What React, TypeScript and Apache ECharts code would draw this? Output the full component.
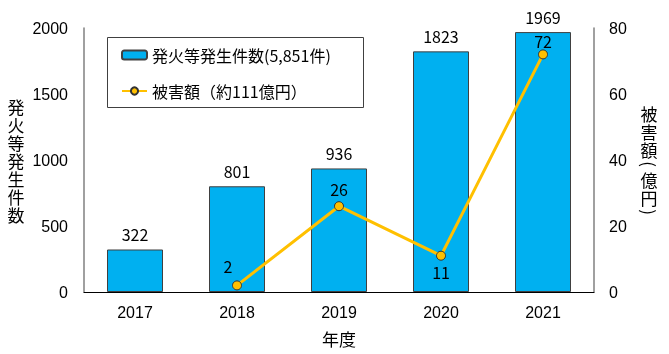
import React, { useEffect, useRef } from "react";
import * as echarts from "echarts";

const years = ["2017", "2018", "2019", "2020", "2021"];
const fireCounts = [322, 801, 936, 1823, 1969];
const damageAmounts: (number | null)[] = [null, 2, 26, 11, 72];
const leftTicks = { min: 0, max: 2000, interval: 500 };
const rightTicks = { min: 0, max: 80, interval: 20 };
const barName = "発火等発生件数(5,851件)";
const lineName = "被害額（約111億円）";
const leftAxisName = ["発", "火", "等", "発", "生", "件", "数"];
const rightAxisName = ["被", "害", "額", "(", "億", "円", ")"];
const xAxisName = "年度";

const CJK = '"Noto Sans CJK JP", sans-serif';
const NUM = '"Liberation Sans", Arial, sans-serif';

function verticalName(chars: string[], cx: number, top: number, step: number) {
  let y = top;
  return chars.map((ch) => {
    const paren = ch === "(" || ch === ")";
    const h = paren ? 12 : step;
    const el = {
      type: "text",
      x: cx,
      y: y + h / 2,
      rotation: paren ? -Math.PI / 2 : 0,
      style: {
        text: ch,
        fontFamily: CJK,
        fontSize: 17,
        lineHeight: paren ? 12 : step,
        fill: "#000",
        align: "center",
        verticalAlign: "middle",
      },
    };
    y += h;
    return el;
  });
}

export default function App() {
  const ref = useRef<HTMLDivElement>(null);
  useEffect(() => {
    if (!ref.current) return;
    const chart = echarts.init(ref.current, undefined, { renderer: "svg" });
    const lineLabelStyles: any[] = [
      {},
      { position: "top", offset: [-9, -1] },
      { position: "top", distance: 4 },
      { position: "bottom", distance: 3 },
      { position: "top", distance: 0 },
    ];
    const lineData = damageAmounts.map((v, i) => ({
      value: v,
      label: lineLabelStyles[i],
    }));
    const plain = (v: number) => String(v);
    chart.setOption({
      animation: false,
      grid: { left: 84, right: 75, top: 28, bottom: 62 },
      legend: {
        left: 121,
        top: 47,
        padding: 0,
        orient: "vertical",
        itemWidth: 25,
        itemHeight: 9,
        itemGap: 20,
        textStyle: { fontFamily: CJK, fontSize: 16, color: "#000" },
        data: [barName, lineName],
      },
      graphic: [
        {
          type: "rect",
          shape: { x: 107.5, y: 37.5, width: 256, height: 70 },
          style: { fill: "none", stroke: "#404040", lineWidth: 1 },
          z: -1,
        },
        ...verticalName(leftAxisName, 16, 97, 18),
        ...verticalName(rightAxisName, 649, 104, 18),
        {
          type: "text",
          x: 339,
          y: 338,
          style: {
            text: xAxisName,
            fontFamily: CJK,
            fontSize: 17,
            fill: "#000",
            align: "center",
            verticalAlign: "middle",
          },
        },
      ],
      xAxis: {
        type: "category",
        data: years,
        axisLine: { show: true, lineStyle: { color: "#000", width: 1 } },
        axisTick: { show: false },
        axisLabel: { fontFamily: NUM, fontSize: 16, color: "#000", margin: 12 },
      },
      yAxis: [
        {
          type: "value",
          ...leftTicks,
          axisLine: { show: true, lineStyle: { color: "#808080", width: 1.5 } },
          axisTick: { show: false },
          splitLine: { show: false },
          axisLabel: { fontFamily: NUM, fontSize: 16, color: "#000", margin: 16, formatter: plain },
        },
        {
          type: "value",
          ...rightTicks,
          position: "right",
          axisLine: { show: true, lineStyle: { color: "#808080", width: 1.5 } },
          axisTick: { show: false },
          splitLine: { show: false },
          axisLabel: { fontFamily: NUM, fontSize: 16, color: "#000", margin: 15, formatter: plain },
        },
      ],
      series: [
        {
          name: barName,
          type: "bar",
          data: fireCounts,
          barWidth: 56,
          itemStyle: { color: "#00B0F0", borderColor: "#404040", borderWidth: 1 },
          label: {
            show: true,
            position: "top",
            distance: 7,
            fontFamily: CJK,
            fontSize: 16,
            color: "#000",
          },
        },
        {
          name: lineName,
          type: "line",
          yAxisIndex: 1,
          data: lineData,
          connectNulls: false,
          symbol: "circle",
          symbolSize: 9,
          lineStyle: { color: "#FFC000", width: 3 },
          itemStyle: { color: "#FFC000", borderColor: "#333", borderWidth: 1 },
          label: {
            show: true,
            fontFamily: CJK,
            fontSize: 16,
            color: "#000",
          },
        },
      ],
    });
    return () => chart.dispose();
  }, []);
  return (
    <div
      ref={ref}
      style={{ position: "fixed", left: 0, top: 0, width: 669, height: 354 }}
    />
  );
}
